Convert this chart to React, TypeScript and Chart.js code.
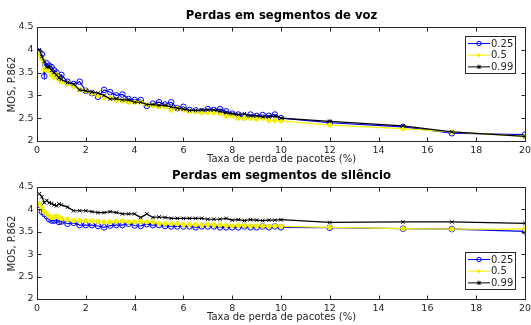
import React, { useEffect, useRef } from "react";
import { Chart, registerables } from "chart.js";

Chart.register(...registerables);

const lossRate = [
  0.1, 0.2, 0.3, 0.4, 0.5, 0.6, 0.7, 0.8, 0.9, 1.0,
  1.25, 1.5, 1.75, 2, 2.25, 2.5, 2.75, 3, 3.25, 3.5,
  3.75, 4, 4.25, 4.5, 4.75, 5, 5.25, 5.5, 5.75, 6,
  6.25, 6.5, 6.75, 7, 7.25, 7.5, 7.75, 8, 8.25, 8.5,
  8.75, 9, 9.25, 9.5, 9.75, 10,
  12, 15, 17, 20,
];

const seriesLabels = ["0.25", "0.5", "0.99"];

const voiceBlue = [
  3.95, 3.9, 3.42, 3.7, 3.65, 3.62, 3.55, 3.5, 3.4, 3.45,
  3.3, 3.25, 3.3, 3.1, 3.05, 2.97, 3.12, 3.07, 3.0, 3.02,
  2.92, 2.9, 2.9, 2.77, 2.82, 2.85, 2.8, 2.85, 2.72, 2.75,
  2.68, 2.67, 2.65, 2.7, 2.68, 2.7, 2.65, 2.6, 2.58, 2.52,
  2.58, 2.55, 2.57, 2.55, 2.58, 2.5,
  2.4, 2.31, 2.17, 2.14,
];
const voiceYellow = [
  3.9, 3.8, 3.57, 3.55, 3.55, 3.45, 3.4, 3.45, 3.35, 3.3,
  3.25, 3.2, 3.12, 3.1, 3.05, 3.0, 2.95, 2.95, 2.9, 2.88,
  2.85, 2.85, 2.85, 2.8, 2.78, 2.75, 2.75, 2.68, 2.72, 2.68,
  2.65, 2.65, 2.62, 2.62, 2.62, 2.6, 2.55, 2.55, 2.5, 2.5,
  2.5, 2.48, 2.5, 2.45, 2.45, 2.44,
  2.35, 2.27, 2.2, 2.1,
];
const voiceBlack = [
  4.0, 3.85, 3.75, 3.62, 3.62, 3.55, 3.5, 3.45, 3.38, 3.35,
  3.28, 3.25, 3.12, 3.1, 3.07, 3.05, 3.0, 2.92, 2.93, 2.9,
  2.9, 2.85, 2.85, 2.8, 2.8, 2.78, 2.78, 2.75, 2.72, 2.7,
  2.67, 2.67, 2.68, 2.68, 2.68, 2.65, 2.62, 2.6, 2.58, 2.6,
  2.55, 2.55, 2.53, 2.53, 2.55, 2.5,
  2.43, 2.33, 2.2, 2.1,
];

const silenceBlue = [
  4.1, 3.95, 3.9, 3.85, 3.78, 3.75, 3.75, 3.77, 3.72, 3.73,
  3.68, 3.7, 3.65, 3.65, 3.65, 3.63, 3.6, 3.64, 3.65, 3.65,
  3.68, 3.64, 3.63, 3.67, 3.65, 3.65, 3.63, 3.62, 3.62, 3.62,
  3.62, 3.6, 3.62, 3.62, 3.62, 3.6, 3.6, 3.6, 3.6, 3.62,
  3.6, 3.6, 3.62, 3.6, 3.62, 3.6,
  3.59, 3.57, 3.56, 3.51,
];
const silenceYellow = [
  4.12, 4.05, 3.95, 3.9, 3.85, 3.82, 3.82, 3.85, 3.82, 3.8,
  3.78, 3.75, 3.75, 3.75, 3.74, 3.73, 3.72, 3.72, 3.73, 3.74,
  3.72, 3.72, 3.73, 3.72, 3.72, 3.68, 3.68, 3.68, 3.68, 3.66,
  3.66, 3.66, 3.65, 3.66, 3.65, 3.65, 3.64, 3.63, 3.64, 3.64,
  3.63, 3.63, 3.63, 3.62, 3.63, 3.62,
  3.6, 3.57, 3.56, 3.56,
];
const silenceBlack = [
  4.35, 4.28, 4.15, 4.2, 4.15, 4.13, 4.1, 4.08, 4.12, 4.1,
  4.05, 3.97, 3.97, 3.97, 3.95, 3.93, 3.93, 3.95, 3.93, 3.9,
  3.9, 3.9, 3.82, 3.9, 3.82, 3.83, 3.82, 3.8, 3.8, 3.8,
  3.8, 3.8, 3.8, 3.78, 3.78, 3.78, 3.8, 3.76, 3.77, 3.75,
  3.77, 3.76, 3.75, 3.76, 3.76, 3.77,
  3.71, 3.72, 3.72, 3.69,
];

const xTicks = [0, 2, 4, 6, 8, 10, 12, 14, 16, 18, 20];
const yTicks = [2, 2.5, 3, 3.5, 4, 4.5];

const FONT = "'DejaVu Sans', sans-serif";
const TEXT = "#262626";
const COLORS = ["#0000ff", "#f2f200", "#000000"];
const STYLES = ["circle", "dot", "crossRot"];

function drawMarker(ctx: CanvasRenderingContext2D, style: string, x: number, y: number, r: number, color: string) {
  ctx.save();
  ctx.strokeStyle = color;
  ctx.fillStyle = color;
  ctx.lineWidth = 1;
  ctx.beginPath();
  if (style === "circle") {
    ctx.arc(x, y, r, 0, Math.PI * 2);
    ctx.stroke();
  } else if (style === "dot") {
    ctx.arc(x, y, r * 0.8, 0, Math.PI * 2);
    ctx.fill();
  } else {
    for (let i = 0; i < 4; i++) {
      const a = (i * Math.PI) / 4;
      ctx.moveTo(x - r * Math.cos(a), y - r * Math.sin(a));
      ctx.lineTo(x + r * Math.cos(a), y + r * Math.sin(a));
    }
    ctx.stroke();
  }
  ctx.restore();
}

type PanelProps = {
  title: string;
  series: number[][];
  top: number;
  height: number;
  padTop: number;
  xScaleHeight: number;
  legendBox: { x: number; y: number; w: number; h: number };
};

function Panel({ title, series, top, height, padTop, xScaleHeight, legendBox }: PanelProps) {
  const ref = useRef<HTMLCanvasElement | null>(null);
  useEffect(() => {
    if (!ref.current) return;
    const decor = {
      id: "decor",
      afterDraw(chart: any) {
        const ctx: CanvasRenderingContext2D = chart.ctx;
        const ca = chart.chartArea;
        const L = Math.round(ca.left) + 0.5;
        const R = Math.round(ca.right) + 0.5;
        const T = Math.round(ca.top) + 0.5;
        const B = Math.round(ca.bottom) + 0.5;
        const xs = chart.scales.x;
        const ys = chart.scales.y;
        ctx.save();
        ctx.strokeStyle = TEXT;
        ctx.lineWidth = 1;
        ctx.strokeRect(L, T, R - L, B - T);
        const tl = 4;
        ctx.beginPath();
        xTicks.forEach((v) => {
          const px = Math.round(xs.getPixelForValue(v)) + 0.5;
          ctx.moveTo(px, B);
          ctx.lineTo(px, B - tl);
          ctx.moveTo(px, T);
          ctx.lineTo(px, T + tl);
        });
        yTicks.forEach((v) => {
          const py = Math.round(ys.getPixelForValue(v)) + 0.5;
          ctx.moveTo(L, py);
          ctx.lineTo(L + tl, py);
          ctx.moveTo(R, py);
          ctx.lineTo(R - tl, py);
        });
        ctx.stroke();

        // tick labels
        ctx.fillStyle = TEXT;
        ctx.font = `9.5px ${FONT}`;
        ctx.textAlign = "center";
        ctx.textBaseline = "middle";
        xTicks.forEach((v) => {
          ctx.fillText(String(v), xs.getPixelForValue(v), B + 9);
        });
        ctx.textAlign = "right";
        yTicks.forEach((v) => {
          ctx.fillText(String(v), L - 4, ys.getPixelForValue(v));
        });

        // title
        ctx.fillStyle = "#000";
        ctx.font = `bold 11.6px ${FONT}`;
        ctx.textAlign = "center";
        ctx.fillText(title, (L + R) / 2, padTop - 11.5);

        // axis titles
        ctx.fillStyle = TEXT;
        ctx.font = `10px ${FONT}`;
        ctx.fillText("Taxa de perda de pacotes (%)", (L + R) / 2, B + 18);
        ctx.save();
        ctx.translate(12, (T + B) / 2);
        ctx.rotate(-Math.PI / 2);
        ctx.fillText("MOS, P.862", 0, 0);
        ctx.restore();

        // legend
        const lb = legendBox;
        ctx.fillStyle = "#fff";
        ctx.fillRect(lb.x, lb.y, lb.w, lb.h);
        ctx.strokeStyle = TEXT;
        ctx.lineWidth = 1;
        ctx.strokeRect(lb.x + 0.5, lb.y + 0.5, lb.w, lb.h);
        ctx.font = `10px ${FONT}`;
        ctx.textAlign = "left";
        ctx.textBaseline = "middle";
        seriesLabels.forEach((lab, i) => {
          const ry = lb.y + 7.5 + i * 11.7;
          ctx.strokeStyle = COLORS[i];
          ctx.lineWidth = 1;
          ctx.beginPath();
          ctx.moveTo(lb.x + 3, ry);
          ctx.lineTo(lb.x + 25, ry);
          ctx.stroke();
          drawMarker(ctx, STYLES[i], lb.x + 14, ry, 2.2, COLORS[i]);
          ctx.fillStyle = TEXT;
          ctx.fillText(lab, lb.x + 26, ry + 0.5);
        });
        ctx.restore();
      },
    };

    const chart = new Chart(ref.current, {
      type: "line",
      data: {
        datasets: series.map((vals, i) => ({
          label: seriesLabels[i],
          data: lossRate.map((x, j) => ({ x, y: vals[j] })),
          borderColor: COLORS[i],
          backgroundColor: i === 1 ? COLORS[i] : "rgba(0,0,0,0)",
          pointBorderColor: COLORS[i],
          pointBackgroundColor: i === 1 ? COLORS[i] : "rgba(0,0,0,0)",
          pointStyle: (i === 0 ? "circle" : i === 1 ? "circle" : "crossRot") as any,
          pointRadius: i === 0 ? 2.8 : i === 1 ? 2.2 : 2.5,
          pointBorderWidth: 1,
          borderWidth: 1.2,
          tension: 0,
          order: 2 - i,
        })),
      },
      options: {
        animation: false,
        responsive: false,
        maintainAspectRatio: false,
        layout: { padding: { top: padTop, right: 6, left: 0, bottom: 0 } },
        plugins: { legend: { display: false }, tooltip: { enabled: false }, title: { display: false } },
        scales: {
          x: {
            type: "linear",
            min: 0,
            max: 20,
            afterFit: (s: any) => {
              s.height = xScaleHeight;
            },
            grid: { display: false, drawTicks: false },
            border: { display: false },
            ticks: { display: false },
          },
          y: {
            type: "linear",
            min: 2,
            max: 4.5,
            afterFit: (s: any) => {
              s.width = 37;
            },
            grid: { display: false, drawTicks: false },
            border: { display: false },
            ticks: { display: false },
          },
        },
      },
      plugins: [decor],
    });
    return () => chart.destroy();
  }, []);
  return (
    <canvas
      ref={ref}
      width={531}
      height={height}
      style={{ position: "absolute", left: 0, top, width: 531, height }}
    />
  );
}

export default function App() {
  return (
    <div style={{ position: "fixed", left: 0, top: 0, width: 531, height: 325, background: "#fff" }}>
      <Panel
        title="Perdas em segmentos de voz"
        series={[voiceBlue, voiceYellow, voiceBlack]}
        top={0}
        height={166}
        padTop={27}
        xScaleHeight={25}
        legendBox={{ x: 465, y: 36, w: 50, h: 37 }}
      />
      <Panel
        title="Perdas em segmentos de silêncio"
        series={[silenceBlue, silenceYellow, silenceBlack]}
        top={162}
        height={163}
        padTop={25}
        xScaleHeight={26}
        legendBox={{ x: 465, y: 90, w: 50, h: 37 }}
      />
    </div>
  );
}
